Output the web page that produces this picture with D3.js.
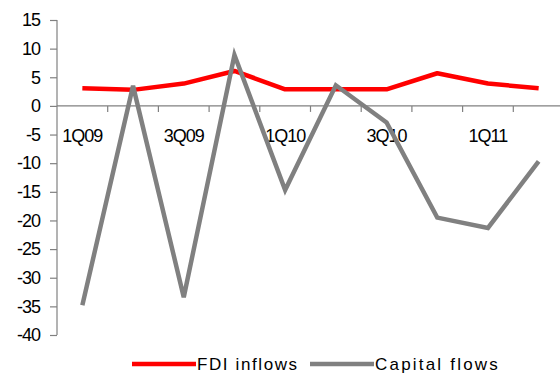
<!DOCTYPE html>
<html><head><meta charset="utf-8">
<script src="https://cdn.jsdelivr.net/npm/d3@7"></script>
<style>
body{margin:0;background:#fff;}
svg{display:block;font-family:"Liberation Sans",Arial,sans-serif;}
</style></head>
<body>
<svg id="c" width="560" height="376"></svg>
<script>
const quarters = ["1Q09","2Q09","3Q09","4Q09","1Q10","2Q10","3Q10","4Q10","1Q11","2Q11"];
const fdiInflows = [3.1, 2.8, 3.9, 6.1, 2.9, 2.9, 2.9, 5.7, 3.9, 3.1];
const capitalFlows = [-34.8, 3.5, -33.4, 8.9, -14.7, 3.6, -2.9, -19.5, -21.3, -9.7];
const yTicks = [15,10,5,0,-5,-10,-15,-20,-25,-30,-35,-40];
const xLabels = ["1Q09","3Q09","1Q10","3Q10","1Q11"];
const seriesNames = ["FDI inflows","Capital flows"];
const seriesColors = ["#ff0000","#808080"];

const svg = d3.select("#c");
const x = d3.scaleBand().domain(quarters).range([57, 564]);
const y = d3.scaleLinear().domain([-40, 15]).range([335, 20]);

// y axis
const yAxis = svg.append("g").attr("transform","translate(57,0)")
  .call(d3.axisLeft(y).tickValues(yTicks).tickSize(7).tickPadding(10).tickFormat(d3.format("d")));
yAxis.select(".domain").attr("stroke","#808080").attr("stroke-width",1.2).attr("d","M0,20V335");
yAxis.selectAll(".tick line").attr("stroke","#808080").attr("stroke-width",1.2);
yAxis.selectAll("text").attr("font-size",18).attr("fill","#000").attr("letter-spacing","-1px")
  .attr("font-family","'Liberation Sans',Arial,sans-serif").text(d => d < 0 ? "-" + Math.abs(d) : d);

// x axis at zero
const xAxis = svg.append("g").attr("transform",`translate(0,${y(0)})`)
  .call(d3.axisBottom(x).tickSize(0).tickFormat(d => xLabels.includes(d) ? d : ""));
xAxis.select(".domain").attr("stroke","#808080").attr("stroke-width",1.2).attr("d","M57,0H560");
xAxis.selectAll(".tick text").attr("font-size",18).attr("fill","#000").attr("letter-spacing","-1px")
  .attr("font-family","'Liberation Sans',Arial,sans-serif").attr("dy","0").attr("y",36);
// category boundary ticks
const bounds = quarters.map(q => x(q)).slice(1);
xAxis.selectAll(".btick").data(bounds).enter().append("line")
  .attr("x1",d=>d).attr("x2",d=>d).attr("y1",0).attr("y2",6)
  .attr("stroke","#808080").attr("stroke-width",1.2);

const cx = q => x(q) + x.bandwidth()/2;
const line = d3.line().x((d,i)=>cx(quarters[i])).y(d=>y(d));

svg.append("path").datum(fdiInflows).attr("d",line)
  .attr("fill","none").attr("stroke",seriesColors[0]).attr("stroke-width",4.5).attr("stroke-linejoin","round");
svg.append("path").datum(capitalFlows).attr("d",line)
  .attr("fill","none").attr("stroke",seriesColors[1]).attr("stroke-width",4.5).attr("stroke-linejoin","miter");

// legend
const legX = [132, 310];
const leg = svg.append("g");
seriesNames.forEach((n,i)=>{
  leg.append("line").attr("x1",legX[i]).attr("x2",legX[i]+64).attr("y1",364).attr("y2",364)
    .attr("stroke",seriesColors[i]).attr("stroke-width",4.5);
  leg.append("text").attr("x",legX[i]+65).attr("y",370).attr("font-size",17)
    .attr("letter-spacing", i===0 ? "1.6px" : "2.2px").attr("fill","#000").text(n);
});
</script>
</body></html>
